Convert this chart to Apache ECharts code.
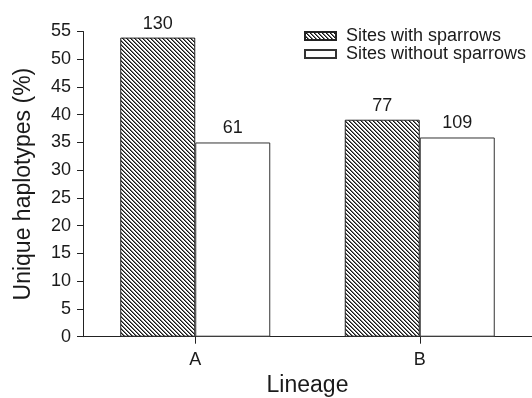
<!DOCTYPE html>
<html>
<head>
<meta charset="utf-8">
<script src="https://cdn.jsdelivr.net/npm/echarts@6/dist/echarts.min.js"></script>
<style>
  html, body { margin: 0; padding: 0; background: #fff; }
  #chart { width: 532px; height: 398px; }
</style>
</head>
<body>
<div id="chart"></div>
<script>
// Lineages on the x axis
const lineages = ['A', 'B'];
// Percentage of unique haplotypes per lineage
const withSparrows = [53.9, 39.1];
const withoutSparrows = [35.0, 35.9];
// Sample sizes printed above each bar
const withSparrowsN = ['130', '77'];
const withoutSparrowsN = ['61', '109'];
// Y axis ticks
const yMin = 0;
const yMax = 55;
const yStep = 5;

const FONT = '"Liberation Sans", Arial, Helvetica, sans-serif';
const INK = '#1a1a1a';

// Crisp diagonal hatch tile ("\" stripes) for the "with sparrows" bars
function makeHatch() {
  const size = 4;
  const c = document.createElement('canvas');
  c.width = size; c.height = size;
  const g = c.getContext('2d');
  const img = g.createImageData(size, size);
  for (let y = 0; y < size; y++) {
    for (let x = 0; x < size; x++) {
      const d = ((x - y) % size + size) % size;
      const v = d === 0 ? 20 : (d === 1 ? 120 : 255);
      const i = (y * size + x) * 4;
      img.data[i] = v; img.data[i + 1] = v; img.data[i + 2] = v; img.data[i + 3] = 255;
    }
  }
  g.putImageData(img, 0, 0);
  return c;
}
const hatch = { image: makeHatch(), repeat: 'repeat' };

const chart = echarts.init(document.getElementById('chart'), null, { renderer: 'canvas' });

const labelStyle = (texts) => ({
  show: true,
  position: 'top',
  distance: 5,
  fontSize: 18,
  fontFamily: FONT,
  color: INK,
  formatter: (p) => texts[p.dataIndex]
});

chart.setOption({
  animation: false,
  backgroundColor: '#ffffff',
  grid: { left: 83, right: 0, top: 31.5, bottom: 61.3, containLabel: false, outerBoundsMode: 'none' },
  legend: {
    orient: 'vertical',
    left: 299,
    top: 22,
    itemWidth: 31,
    itemHeight: 8,
    itemGap: 0,
    icon: 'rect',
    selectedMode: false,
    textStyle: { fontSize: 18, fontFamily: FONT, color: INK, padding: [0, 0, 0, 5] },
    data: ['Sites with sparrows', 'Sites without sparrows']
  },
  xAxis: {
    type: 'category',
    data: lineages,
    boundaryGap: true,
    name: 'Lineage',
    nameLocation: 'middle',
    nameGap: 37,
    nameTextStyle: { fontSize: 23, fontFamily: FONT, color: INK },
    axisLine: { show: true, lineStyle: { color: '#222', width: 1 } },
    axisTick: { show: true, alignWithLabel: true, length: 7, lineStyle: { color: '#222' } },
    axisLabel: { fontSize: 18, fontFamily: FONT, color: INK, margin: 14 },
    splitLine: { show: false }
  },
  yAxis: {
    type: 'value',
    min: yMin,
    max: yMax,
    interval: yStep,
    name: 'Unique haplotypes (%)',
    nameLocation: 'middle',
    nameRotate: 90,
    nameGap: 48,
    nameTextStyle: { fontSize: 23, fontFamily: FONT, color: INK },
    axisLine: { show: true, lineStyle: { color: '#222', width: 1 } },
    axisTick: { show: true, length: 6, lineStyle: { color: '#222' } },
    axisLabel: { fontSize: 18, fontFamily: FONT, color: INK, margin: 12 },
    splitLine: { show: false }
  },
  series: [
    {
      name: 'Sites with sparrows',
      type: 'bar',
      data: withSparrows,
      barWidth: 75,
      barGap: '0%',
      itemStyle: { color: hatch, borderColor: '#222', borderWidth: 1 },
      label: labelStyle(withSparrowsN)
    },
    {
      name: 'Sites without sparrows',
      type: 'bar',
      data: withoutSparrows,
      barWidth: 75,
      barGap: '0%',
      itemStyle: { color: '#ffffff', borderColor: '#333', borderWidth: 1 },
      label: labelStyle(withoutSparrowsN)
    }
  ]
});
</script>
</body>
</html>
